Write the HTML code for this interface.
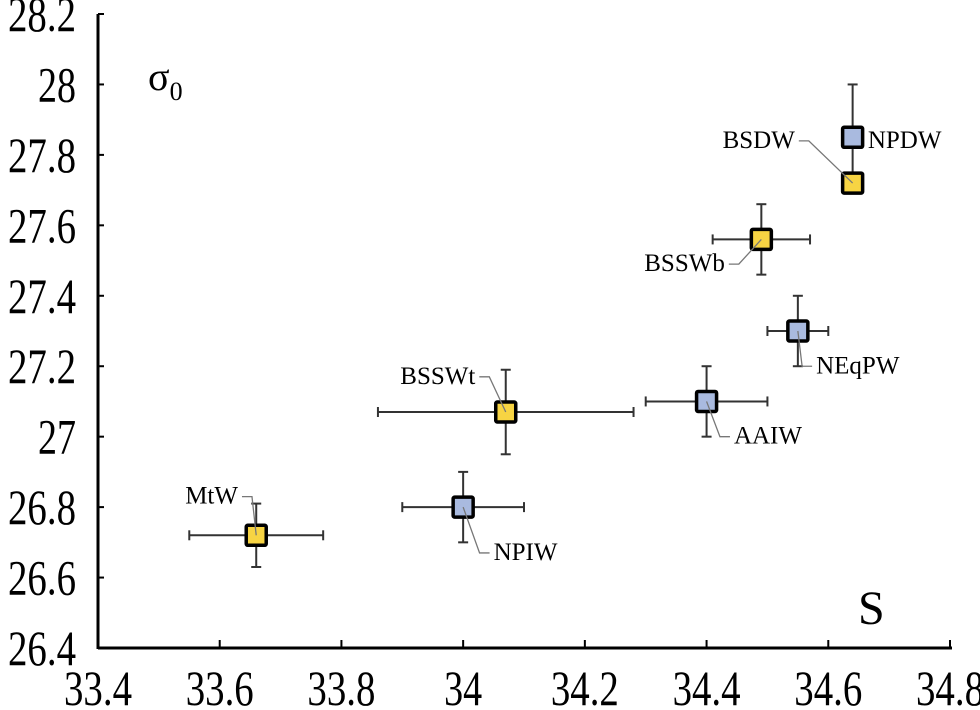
<!DOCTYPE html>
<html><head><meta charset="utf-8"><style>
html,body{margin:0;padding:0;background:#fff;}
svg{display:block;}
text{font-family:"Liberation Serif","Times New Roman",serif;}
</style></head><body>
<svg id="chart" width="980" height="710">
<g id="axes"></g>
<g id="marks"></g>
<text x="148" y="90" font-size="40" font-family="Liberation Serif, serif">σ<tspan font-size="26" dy="10">0</tspan></text>
<text x="858" y="624" font-size="48" font-family="Liberation Serif, serif">S</text>
</svg>
<script>
const names=["MtW","NPIW","BSSWt","AAIW","NEqPW","BSSWb","NPDW","BSDW"];
const sal=[33.66,34.0,34.07,34.4,34.55,34.49,34.64,34.64];
const sig=[26.72,26.80,27.07,27.10,27.30,27.56,27.85,27.72];
const xLo=[33.55,33.9,33.86,34.3,34.5,34.41,null,null];
const xHi=[33.77,34.1,34.28,34.5,34.6,34.57,null,null];
const yLo=[26.63,26.7,26.95,27.0,27.2,27.46,27.7,null];
const yHi=[26.81,26.9,27.19,27.2,27.4,27.66,28.0,null];
const kind=["y","b","y","b","b","y","b","y"];
const labelPos=[[33.63,26.81],[34.05,26.65],[34.02,27.15],[34.445,26.98],[34.58,27.18],[34.43,27.47],[34.665,27.82],[34.545,27.82]];
const xTicks=[33.4,33.6,33.8,34,34.2,34.4,34.6,34.8];
const yTicks=[26.4,26.6,26.8,27,27.2,27.4,27.6,27.8,28,28.2];
const X0=98,X1=950,Y0=648,Y1=14;
const sx=v=>X0+(v-33.4)/1.4*(X1-X0);
const sy=v=>Y0-(v-26.4)/1.8*(Y0-Y1);
const NS="http://www.w3.org/2000/svg";
function mk(t,a,p){const e=document.createElementNS(NS,t);for(const k in a)e.setAttribute(k,a[k]);p.appendChild(e);return e;}
const tl=s=>s.replace(/\./g,'').length*19+(s.includes('.')?11:0);
const ax=document.getElementById('axes'),mg=document.getElementById('marks');
const FF="Liberation Serif, serif";
let l=mk('line',{x1:X0,y1:Y0,x2:X1+2,y2:Y0,stroke:'#000','stroke-width':3},ax);


l=mk('line',{x1:X0,y1:Y0+1,x2:X0,y2:Y1,stroke:'#000','stroke-width':3},ax);


xTicks.forEach(v=>{
 if(v>33.4){const t=mk('line',{x1:sx(v),y1:Y0,x2:sx(v),y2:Y0-8,stroke:'#000','stroke-width':2},ax);
 
 }
 const s=String(v);
 const tx=mk('text',{x:sx(v),y:705,'font-size':50,'text-anchor':'middle','font-family':FF,textLength:tl(s),lengthAdjust:'spacingAndGlyphs'},ax);tx.textContent=s;
 
 
});
yTicks.forEach(v=>{
 if(v>26.4){const t=mk('line',{x1:X0,y1:sy(v),x2:X0+6,y2:sy(v),stroke:'#000','stroke-width':2},ax);
 
 }
 const s=String(v);
 const tx=mk('text',{x:76,y:sy(v)+17,'font-size':50,'text-anchor':'end','font-family':FF,textLength:tl(s),lengthAdjust:'spacingAndGlyphs'},ax);tx.textContent=s;
 
 
});
names.forEach((n,i)=>{
 const g=mk('g',{},mg);
 
 
 const cx=sx(sal[i]),cy=sy(sig[i]);
 const st={stroke:'#333','stroke-width':2};
 if(xLo[i]!==null){const a=sx(xLo[i]),b=sx(xHi[i]);
  mk('line',Object.assign({x1:a,y1:cy,x2:b,y2:cy},st),g);
  mk('line',Object.assign({x1:a,y1:cy-5,x2:a,y2:cy+5},st),g);
  mk('line',Object.assign({x1:b,y1:cy-5,x2:b,y2:cy+5},st),g);}
 if(yLo[i]!==null){const a=sy(yLo[i]),b=sy(yHi[i]);
  mk('line',Object.assign({x1:cx,y1:a,x2:cx,y2:b},st),g);
  mk('line',Object.assign({x1:cx-5,y1:a,x2:cx+5,y2:a},st),g);
  mk('line',Object.assign({x1:cx-5,y1:b,x2:cx+5,y2:b},st),g);}
 mk('rect',{x:cx-10,y:cy-10,width:20,height:20,fill:kind[i]=='y'?'#f7d443':'#a9badf',stroke:'#000','stroke-width':3.5,rx:1.5},g);
 const lx=sx(labelPos[i][0]),ly=sy(labelPos[i][1]);
 const right=lx>cx;
 if(n!=="NPDW") mk('polyline',{points:`${cx},${cy} ${right?lx-14:lx+14},${ly-7} ${right?lx-4:lx+4},${ly-7}`,fill:'none',stroke:'#777','stroke-width':1.3},g);
 const t=mk('text',{x:lx,y:ly,'font-size':25,'text-anchor':right?'start':'end','font-family':FF},g);
 t.textContent=n;
 
 
});
</script>
</body></html>
